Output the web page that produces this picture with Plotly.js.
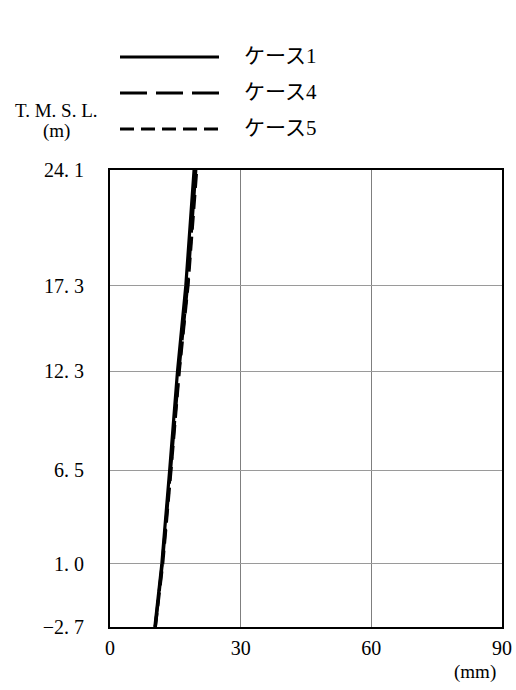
<!DOCTYPE html>
<html><head><meta charset="utf-8">
<script src="https://cdn.plot.ly/plotly-3.0.1.min.js"></script>
<style>body{margin:0;background:#fff}#c{width:516px;height:690px}</style>
</head><body><div id="c"></div>
<script>
const elevations = [-2.7, 1.0, 6.5, 12.3, 17.3, 24.1];
const case1 = [10.3, 11.9, 13.7, 15.5, 17.4, 19.3];
const case4 = [10.4, 12.0, 13.9, 15.8, 17.8, 19.7];
const case5 = [10.4, 12.1, 14.0, 15.9, 17.9, 19.9];
const seriesNames = ['ケース1', 'ケース4', 'ケース5'];
const yTickVals = [-2.7, 1.0, 6.5, 12.3, 17.3, 24.1];
const yTickText = ['−2. 7', '1. 0', '6. 5', '12. 3', '17. 3', '24. 1'];
const xTickVals = [0, 30, 60, 90];

const FONT = '"Liberation Serif", "Noto Sans CJK JP", serif';
const dashes = ['solid', '27px,9px', '14px,7px'];
const data = [case1, case4, case5].map((xs, i) => ({
  x: xs, y: elevations, type: 'scatter', mode: 'lines', name: seriesNames[i],
  line: {color: '#000', width: 3.2, dash: dashes[i]}, showlegend: false
}));

const toPaperX = p => (p - 110) / 392;
const toPaperY = p => (627 - p) / 457;
const shapes = [];
const annotations = [];
const legPix = [57, 93, 129];
for (let i = 0; i < 3; i++) {
  shapes.push({type: 'line', xref: 'paper', yref: 'paper',
    x0: toPaperX(120), x1: toPaperX(219), y0: toPaperY(legPix[i]), y1: toPaperY(legPix[i]),
    line: {color: '#000', width: 3.2, dash: dashes[i]}});
  annotations.push({xref: 'paper', yref: 'paper', x: toPaperX(242), y: toPaperY(legPix[i] - 1),
    xanchor: 'left', yanchor: 'middle', text: seriesNames[i], showarrow: false,
    font: {family: FONT, size: 21, color: '#000'}});
}
annotations.push({xref: 'paper', yref: 'paper', x: toPaperX(57), y: toPaperY(110),
  xanchor: 'center', yanchor: 'middle', text: 'T. M. S. L.', showarrow: false,
  font: {family: FONT, size: 19, color: '#000'}});
annotations.push({xref: 'paper', yref: 'paper', x: toPaperX(57), y: toPaperY(131),
  xanchor: 'center', yanchor: 'middle', text: '(m)', showarrow: false,
  font: {family: FONT, size: 19, color: '#000'}});
annotations.push({xref: 'paper', yref: 'paper', x: toPaperX(475), y: toPaperY(672),
  xanchor: 'center', yanchor: 'middle', text: '(mm)', showarrow: false,
  font: {family: FONT, size: 19, color: '#000'}});

const layout = {
  width: 516, height: 690,
  margin: {l: 110, r: 14, t: 170, b: 63},
  paper_bgcolor: '#fff', plot_bgcolor: '#fff',
  showlegend: false,
  font: {family: FONT, size: 20, color: '#000'},
  xaxis: {range: [0, 90], tickvals: xTickVals, ticks: '', showgrid: true,
    gridcolor: '#7f7f7f', gridwidth: 1, zeroline: false,
    showline: true, mirror: true, linecolor: '#000', linewidth: 2,
    ticklabelstandoff: 2, tickfont: {family: FONT, size: 20}},
  yaxis: {range: [-2.7, 24.1], tickvals: yTickVals, ticktext: yTickText, ticks: '',
    showgrid: true, gridcolor: '#9a9a9a', gridwidth: 1, zeroline: false,
    showline: true, mirror: true, linecolor: '#000', linewidth: 2,
    ticklabelstandoff: 20, tickfont: {family: FONT, size: 20}},
  shapes: shapes, annotations: annotations
};
Plotly.newPlot('c', data, layout, {staticPlot: true});
</script></body></html>
